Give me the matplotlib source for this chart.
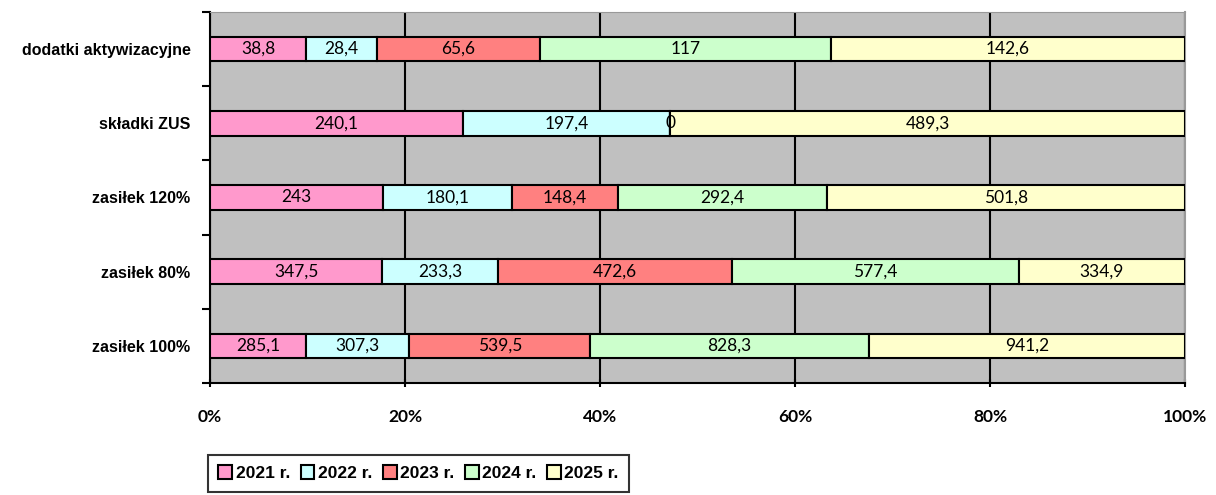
import numpy as np
import matplotlib
matplotlib.use('Agg')
import matplotlib.pyplot as plt
from matplotlib.ticker import FuncFormatter

### Data
categories = ['dodatki aktywizacyjne', 'składki ZUS', 'zasiłek 120%', 'zasiłek 80%', 'zasiłek 100%']
series_names = ['2021 r.', '2022 r.', '2023 r.', '2024 r.', '2025 r.']
v2021 = [38.8, 240.1, 243, 347.5, 285.1]
v2022 = [28.4, 197.4, 180.1, 233.3, 307.3]
v2023 = [65.6, 0, 148.4, 472.6, 539.5]
v2024 = [117, None, 292.4, 577.4, 828.3]
v2025 = [142.6, 489.3, 501.8, 334.9, 941.2]

colors = ['#FF99CC', '#CCFFFF', '#FF8080', '#CCFFCC', '#FFFFCC']

### Figure
fig = plt.figure(figsize=(12.16, 4.95), dpi=100)
ax = fig.add_axes([210 / 1216, 1 - 383 / 495, 975 / 1216, 371 / 495])
ax.set_facecolor('#C0C0C0')

series = [v2021, v2022, v2023, v2024, v2025]
data = np.array([[np.nan if v is None else v for v in s] for s in series], dtype=float)
totals = np.nansum(data, axis=0)
pct = data / totals * 100

y = np.arange(len(categories))[::-1]
left = np.zeros(len(categories))
for i, name in enumerate(series_names):
    w = np.nan_to_num(pct[i])
    ax.barh(y, w, left=left, height=0.33, color=colors[i], edgecolor='black',
            linewidth=1.5, label=name, zorder=3)
    for j in range(len(categories)):
        if np.isnan(data[i, j]):
            continue
        txt = ('%g' % data[i, j]).replace('.', ',')
        ax.text(left[j] + w[j] / 2, y[j], txt, ha='center', va='center',
                fontsize=12.5, family='Lato', zorder=4)
    left += w

ax.set_xlim(0, 100)
ax.set_ylim(-0.5, len(categories) - 0.5)
ax.set_xticks([0, 20, 40, 60, 80, 100])
ax.xaxis.set_major_formatter(FuncFormatter(lambda v, p: '%d%%' % v))
ax.grid(axis='x', color='black', linewidth=1.5, zorder=1)
ax.set_axisbelow(True)

ax.set_yticks(y)
ax.set_yticklabels(categories, fontweight='bold', fontsize=11.5, family='Liberation Sans')
ax.set_yticks(np.arange(-0.5, len(categories), 1), minor=True)
ax.tick_params(axis='y', which='major', length=0, pad=14)
ax.tick_params(axis='y', which='minor', length=6, width=1.5, direction='out')
ax.tick_params(axis='x', length=6, width=1.5, direction='inout', pad=16)
for lab in ax.get_xticklabels():
    lab.set_fontweight('bold')
    lab.set_fontsize(12.5)
    lab.set_family('Lato')

ax.spines['left'].set_linewidth(1.5)
ax.spines['bottom'].set_linewidth(1.5)
ax.spines['top'].set_color('#999999')
ax.spines['right'].set_color('#999999')
ax.spines['right'].set_linewidth(1.5)

leg = fig.legend(loc='upper left', bbox_to_anchor=(208 / 1216, 1 - 455 / 495), ncol=5,
                 frameon=True, fancybox=False, edgecolor='black', handlelength=0.8,
                 handleheight=0.8, handletextpad=0.2, columnspacing=0.6, borderpad=0.6,
                 borderaxespad=0,
                 prop={'family': 'Liberation Sans', 'weight': 'bold', 'size': 12.5})
leg.get_frame().set_linewidth(1.5)

fig.savefig('out.png', dpi=100)
